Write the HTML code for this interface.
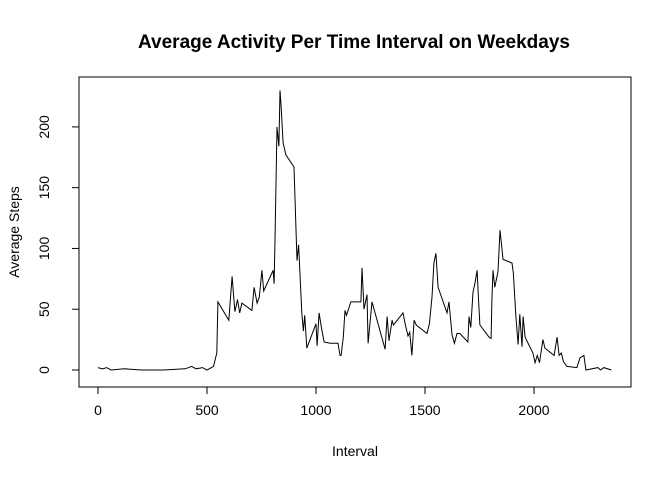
<!DOCTYPE html>
<html><head><meta charset="utf-8"><style>
body{margin:0;background:#fff}
svg text{font-family:"Liberation Sans",Arial,sans-serif;fill:#000}
</style></head><body>
<svg id="c" width="672" height="480" xmlns="http://www.w3.org/2000/svg">
<rect width="672" height="480" fill="#fff"/>
<text x="354" y="48" text-anchor="middle" font-size="19" font-weight="bold">Average Activity Per Time Interval on Weekdays</text>
<rect x="79" y="77" width="552" height="310" fill="none" stroke="#000" stroke-width="1"/>
<text x="355" y="456" text-anchor="middle" font-size="14">Interval</text>
<text transform="translate(19,232) rotate(-90)" text-anchor="middle" font-size="14">Average Steps</text>
<g id="axes"></g>
<path id="line" fill="none" stroke="#000" stroke-width="1"/>
</svg>
<script>
const intervals=[0,20,40,60,120,200,300,400,430,450,480,500,530,545,550,600,615,628,640,650,660,706,716,730,740,752,760,803,808,812,821,830,835,840,849,862,899,913,920,935,942,948,958,1000,1005,1014,1025,1037,1064,1101,1110,1115,1125,1133,1140,1160,1206,1211,1220,1234,1239,1257,1303,1317,1326,1335,1349,1355,1399,1410,1422,1430,1440,1450,1460,1509,1520,1532,1541,1550,1560,1601,1610,1624,1635,1647,1660,1697,1702,1710,1720,1730,1739,1745,1752,1794,1803,1807,1812,1820,1835,1844,1850,1858,1899,1905,1917,1927,1935,1945,1950,1959,1995,2005,2015,2025,2041,2050,2092,2106,2115,2125,2135,2151,2197,2211,2229,2238,2293,2305,2320,2355];
const steps=[2,1,2,0,1,0,0,1,3,1,2,0,3,14,56,41,77,48,58,47,55,49,68,55,60,82,65,82,71,107,200,184,230,217,187,177,167,90,103,47,32,45,18,38,20,47,35,23,22,22,12,12,27,49,45,56,56,84,50,62,22,56,26,17,44,24,41,37,47,37,28,31,12,41,37,30,38,60,88,96,68,47,56,29,22,30,30,23,44,35,64,72,82,60,37,27,26,58,82,68,81,115,105,91,88,80,44,21,46,19,44,27,14,6,12,6,25,18,12,27,12,14,7,3,2,10,12,0,2,0,2,0];
const xTicks=[0,500,1000,1500,2000];
const yTicks=[0,50,100,150,200];
const X=v=>98+v*0.218, Y=v=>370-v*1.2155;
const ns="http://www.w3.org/2000/svg", ax=document.getElementById('axes');
function mk(t,a){const e=document.createElementNS(ns,t);for(const k in a)e.setAttribute(k,a[k]);ax.appendChild(e);return e;}
let xl=mk('line',{x1:X(0),x2:X(2000),y1:387,y2:387,stroke:'#000'});


let yl=mk('line',{x1:79,x2:79,y1:Y(0),y2:Y(200),stroke:'#000'});


xTicks.forEach(v=>{
  const t=mk('line',{x1:X(v),x2:X(v),y1:387,y2:394,stroke:'#000'});
  
  
  const l=mk('text',{x:X(v),y:415,'text-anchor':'middle','font-size':14});
  l.textContent=v;
  
  
});
yTicks.forEach(v=>{
  const t=mk('line',{x1:72,x2:79,y1:Y(v),y2:Y(v),stroke:'#000'});
  
  
  const l=mk('text',{transform:`translate(49,${Y(v)}) rotate(-90)`,'text-anchor':'middle','font-size':14});
  l.textContent=v;
  
  
});
document.getElementById('line').setAttribute('d',intervals.map((v,i)=>(i?'L':'M')+X(v).toFixed(1)+','+Y(steps[i]).toFixed(1)).join(''));
</script>
</body></html>
